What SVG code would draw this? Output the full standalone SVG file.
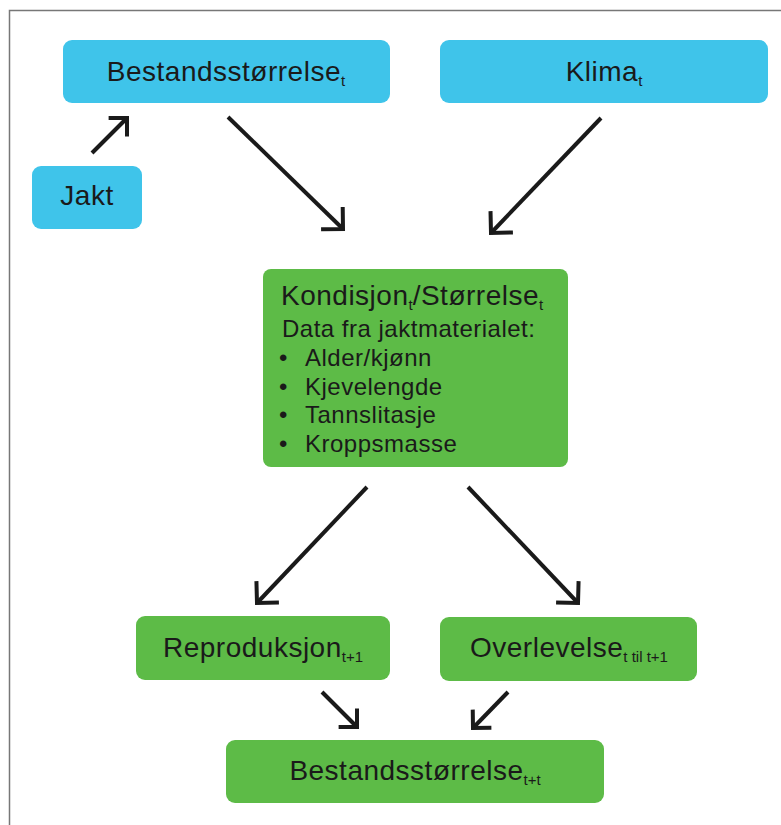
<svg xmlns="http://www.w3.org/2000/svg" width="781" height="825" viewBox="0 0 781 825">
<style>
.blue{fill:#3fc4ea}
.green{fill:#5dbb47}
.t{font-family:"Liberation Sans",Arial,sans-serif;fill:#1a1a1a;letter-spacing:0.5px}
.big{font-size:28px}
.mid{font-size:24px}
.sub{font-size:15px;letter-spacing:0}
.arr{stroke:#1a1a1a;stroke-width:4;fill:none}
</style>
<defs>
<marker id="ah" markerUnits="userSpaceOnUse" viewBox="-20 -20 24 40" refX="0" refY="0" markerWidth="24" markerHeight="40" orient="auto" overflow="visible">
<path d="M-15.5,-15.5 L0,0 L-15.5,15.5" fill="none" stroke="#1a1a1a" stroke-width="4" stroke-linecap="butt" stroke-linejoin="miter"/>
</marker>
<marker id="ahs" markerUnits="userSpaceOnUse" viewBox="-20 -20 24 40" refX="0" refY="0" markerWidth="24" markerHeight="40" orient="auto" overflow="visible">
<path d="M-13,-13 L0,0 L-13,13" fill="none" stroke="#1a1a1a" stroke-width="4" stroke-linecap="butt" stroke-linejoin="miter"/>
</marker>
</defs>
<rect width="781" height="825" fill="#ffffff"/>
<path d="M9.5,825 L9.5,10.5 L781,10.5" fill="none" stroke="#777" stroke-width="1.5"/>

<g id="bestand_t">
<rect class="blue" x="63" y="40" width="327" height="63" rx="9"/>
<text class="t big" x="226" y="81" text-anchor="middle">Bestandsstørrelse<tspan class="sub" dy="5">t</tspan></text>
</g>
<g id="klima">
<rect class="blue" x="440" y="40" width="328" height="63" rx="9"/>
<text class="t big" x="604" y="81" text-anchor="middle">Klima<tspan class="sub" dy="5">t</tspan></text>
</g>
<g id="jakt">
<rect class="blue" x="32" y="166" width="110" height="63" rx="9"/>
<text class="t big" x="87" y="205" text-anchor="middle">Jakt</text>
</g>
<g id="kondisjon">
<rect class="green" x="263" y="269" width="305" height="198" rx="8"/>
<text class="t big" x="281" y="305">Kondisjon<tspan class="sub" dy="5">t</tspan><tspan dy="-5">/Størrelse</tspan><tspan class="sub" dy="5">t</tspan></text>
<text class="t mid" x="282" y="337">Data fra jaktmaterialet:</text>
<g class="t mid">
<text x="279" y="366">•</text><text x="305" y="366">Alder/kjønn</text>
<text x="279" y="395">•</text><text x="305" y="395">Kjevelengde</text>
<text x="279" y="423">•</text><text x="305" y="423">Tannslitasje</text>
<text x="279" y="452">•</text><text x="305" y="452">Kroppsmasse</text>
</g>
</g>
<g id="reproduksjon">
<rect class="green" x="136" y="616" width="254" height="64" rx="9"/>
<text class="t big" x="263" y="657" text-anchor="middle">Reproduksjon<tspan class="sub" dy="5">t+1</tspan></text>
</g>
<g id="overlevelse">
<rect class="green" x="440" y="617" width="257" height="64" rx="9"/>
<text class="t big" x="569" y="657" text-anchor="middle">Overlevelse<tspan class="sub" dy="5">t til t+1</tspan></text>
</g>
<g id="bestand_t1">
<rect class="green" x="226" y="740" width="378" height="63" rx="9"/>
<text class="t big" x="415" y="780" text-anchor="middle">Bestandsstørrelse<tspan class="sub" dy="5">t+t</tspan></text>
</g>

<g id="connectors">
<path class="arr" d="M92,153 L127,118" marker-end="url(#ahs)"/>
<path class="arr" d="M228,117 L343,229" marker-end="url(#ah)"/>
<path class="arr" d="M601,118 L491,233" marker-end="url(#ah)"/>
<path class="arr" d="M367,487 L257,603" marker-end="url(#ah)"/>
<path class="arr" d="M468,487 L578,603" marker-end="url(#ah)"/>
<path class="arr" d="M322,692 L357,727" marker-end="url(#ahs)"/>
<path class="arr" d="M508,692 L473,728" marker-end="url(#ahs)"/>
</g>
</svg>
